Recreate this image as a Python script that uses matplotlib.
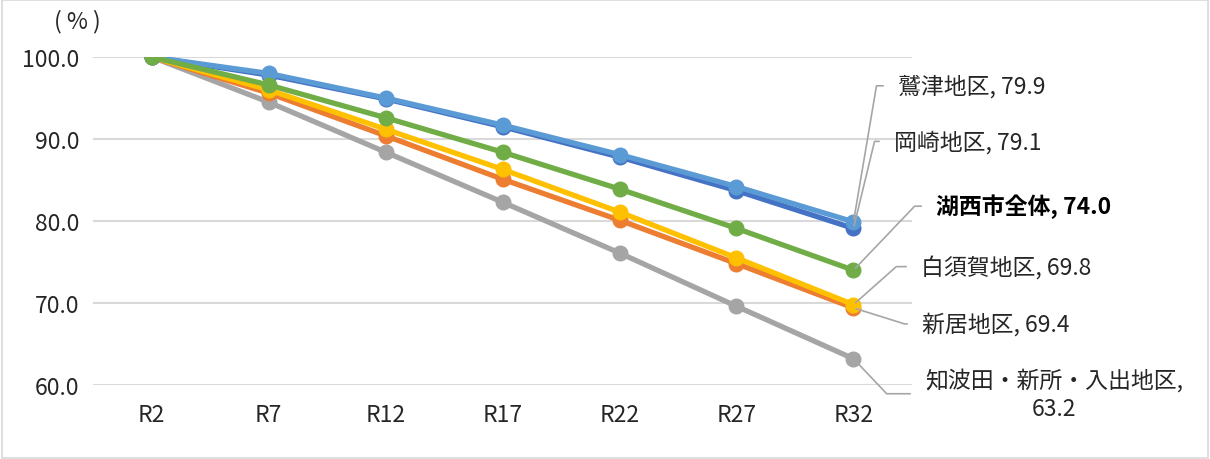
import math
import matplotlib.pyplot as plt
from matplotlib.patches import Rectangle

plt.rcParams['font.family'] = ['Noto Sans CJK JP', 'DejaVu Sans']

years = ['R2', 'R7', 'R12', 'R17', 'R22', 'R27', 'R32']

# 指数 (R2 = 100)
chibata = [100.0, 94.5, 88.4, 82.3, 76.1, 69.6, 63.2]
arai = [100.0, 95.6, 90.4, 85.1, 80.1, 74.8, 69.4]
shirasuka = [100.0, 96.0, 91.2, 86.3, 81.1, 75.5, 69.8]
okazaki = [100.0, 97.8, 94.9, 91.5, 87.8, 83.7, 79.1]
washizu = [100.0, 98.0, 95.0, 91.7, 88.1, 84.2, 79.9]
kosai = [100.0, 96.6, 92.6, 88.4, 83.9, 79.1, 74.0]

series = [chibata, arai, shirasuka, okazaki, washizu, kosai]
colors = ['#A5A5A5', '#ED7D31', '#FFC000', '#4472C4', '#5B9BD5', '#70AD47']

fig = plt.figure(figsize=(12.1, 4.6), dpi=100)
ax = fig.add_axes([0.0769, 0.1609, 0.6768, 0.713])

x = list(range(len(years)))
for vals, c in zip(series, colors):
    ax.plot(x, vals, color=c, lw=3.8, marker='o', ms=10.5, solid_capstyle='round')

ax.set_xlim(-0.5, len(years) - 0.5)
ax.set_ylim(60, 100)
ax.set_yticks([60, 70, 80, 90, 100])
ax.set_yticklabels(['%.1f' % v for v in [60, 70, 80, 90, 100]])
ax.set_xticks(x)
ax.set_xticklabels(years)
ax.tick_params(length=0, labelsize=16.5, colors='#262626', pad=10)
ax.tick_params(axis='x', pad=13)
ax.grid(axis='y', color='#D9D9D9', lw=1.5)
ax.set_axisbelow(True)
for s in ax.spines.values():
    s.set_visible(False)

fig.text(0.045, 0.952, '( % )', fontsize=16.5, color='#262626', va='center')

# data labels with leader lines: text offset (dx, dy) and corner offset (cx, cy) in pixels
labels = [
    (washizu, '鷲津地区, 79.9', 45, 136, 23, 136, 'normal', 'left'),
    (okazaki, '岡崎地区, 79.1', 41, 87, 21, 87, 'normal', 'left'),
    (kosai, '湖西市全体, 74.0', 83, 64, 63, 66, 'bold', 'left'),
    (shirasuka, '白須賀地区, 69.8', 68, 38, 45, 40, 'normal', 'left'),
    (arai, '新居地区, 69.4', 69, -16, 48, -15, 'normal', 'left'),
    (chibata, '知波田・新所・入出地区,\n63.2', 201, -35, 38, -40, 'normal', 'center'),
]
for vals, txt, dx, dy, cx, cy, fw, ha in labels:
    ang = math.degrees(math.atan2(cy, cx))
    ax.annotate(txt, xy=(x[-1], vals[-1]), xytext=(dx, dy), textcoords='offset pixels',
                ha=ha, va='center', fontsize=16.5, fontweight=fw,
                color='#262626' if fw == 'normal' else 'black',
                multialignment='center', linespacing=1.3,
                arrowprops=dict(arrowstyle='-', color='#A6A6A6', lw=1.2, relpos=(0, 0.5),
                                shrinkA=9, shrinkB=2,
                                connectionstyle='angle,angleA=0,angleB=%.1f,rad=0' % ang))

fig.patches.append(Rectangle((0.002, 0.003), 0.996, 0.994, transform=fig.transFigure,
                             fill=False, edgecolor='#D9D9D9', lw=1.2))

fig.savefig('out.png', dpi=100)
